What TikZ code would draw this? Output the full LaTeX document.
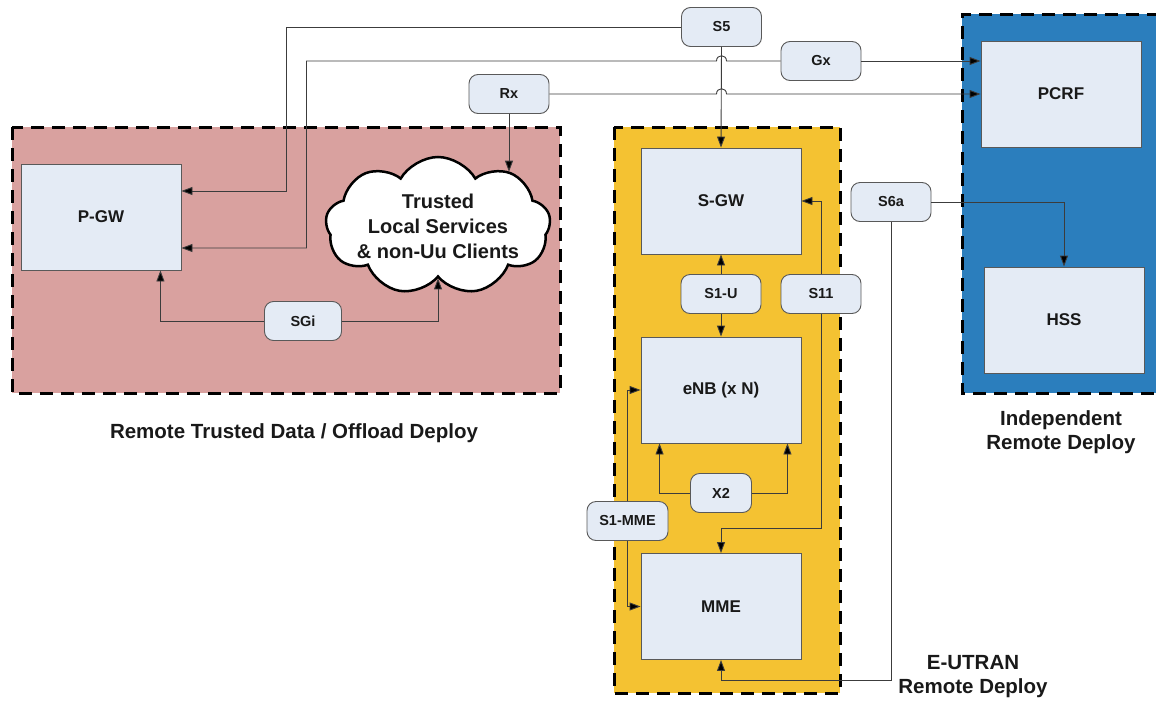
\documentclass[tikz,border=0pt]{standalone}
\usepackage{fontspec}
\setmainfont{Liberation Sans}
\usetikzlibrary{calc,shapes.symbols,arrows.meta}
\definecolor{trustpink}{HTML}{D9A19F}
\definecolor{eutranyellow}{HTML}{F4C232}
\definecolor{indepblue}{HTML}{2B7EBD}
\definecolor{boxfill}{HTML}{E4EBF5}
\definecolor{boxline}{HTML}{595959}
\definecolor{linkgray}{HTML}{3C3C3C}
\begin{document}
\begin{tikzpicture}[x=1pt,y=-1pt,
  box/.style={rectangle,draw=boxline,fill=boxfill,line width=0.9pt,minimum width=160pt,minimum height=106pt,font=\fontsize{17}{20}\selectfont\bfseries,text=black!90},
  pill/.style={rectangle,rounded corners=9pt,draw=boxline,fill=boxfill,line width=0.9pt,minimum width=80pt,minimum height=39pt,inner sep=0pt,font=\fontsize{14.5}{16}\selectfont\bfseries,text=black!90},
  region/.style={line width=3pt,dash pattern=on 13pt off 8pt},
  regionlabel/.style={align=center,font=\fontsize{20.5}{24}\selectfont\bfseries,text=black!90},
  link/.style={draw=linkgray,line width=0.9pt,-{Triangle[length=11pt,width=8pt,fill=black]}}]
\useasboundingbox (0,0) rectangle (1156,704);
\fill[trustpink] (12,127) rectangle (560,393);
\draw[region] (12,127) rectangle (560,393);
\fill[eutranyellow] (614,127) rectangle (840,693);
\draw[region] (614,127) rectangle (840,693);
\fill[indepblue] (962,14) rectangle (1160,393);
\draw[region] (1160,14) -- (962,14) -- (962,393) -- (1160,393);

\node[box] (PGW) at (101,217) {P-GW};
\node[cloud,draw=black,fill=white,line width=2.5pt,cloud puffs=9,cloud puff arc=120,aspect=1.6,minimum width=225pt,minimum height=138pt,inner sep=0pt] (cloud) at (438,226) {};
\node[align=center,font=\fontsize{20}{25}\selectfont\bfseries,text=black!90] (cloudtext) at (438,226) {Trusted\\Local Services\\\& non-Uu Clients};
\node[box] (SGW) at (721,201) {S-GW};
\node[box] (ENB) at (721,390) {eNB (x N)};
\node[box] (MME) at (721,606.5) {MME};
\node[box] (PCRF) at (1061,94) {PCRF};
\node[box] (HSS) at (1064,320) {HSS};

\node[pill] (S5) at (721.5,27) {S5};
\node[pill] (Gx) at (821,61) {Gx};
\node[pill] (Rx) at (509,94) {Rx};
\node[pill,minimum width=77pt] (SGi) at (303,321) {SGi};
\node[pill] (S6a) at (891,202) {S6a};
\node[pill] (S1U) at (721,294) {S1-U};
\node[pill] (S11) at (821,294) {S11};
\node[pill,minimum width=61pt] (X2) at (721,493) {X2};
\node[pill,minimum width=81pt] (S1MME) at (627.5,521) {S1-MME};

\node[regionlabel] (trustlbl) at (294,433) {Remote Trusted Data / Offload Deploy};
\node[regionlabel] (indeplbl) at (1061,432) {Independent\\Remote Deploy};
\node[regionlabel] (eutranlbl) at (973,677) {E-UTRAN\\Remote Deploy};

\draw[link] (S5.west) -| ($(PGW.east)+(105,-26)$) -- ($(PGW.east)+(0,-26)$);
\draw[link] (S5.south) -- (SGW.north);
\draw[link] (Gx.west) -- ($(S5.south |- Gx.west)+(5,0)$) .. controls +(0,-7) and +(0,-7) .. ($(S5.south |- Gx.west)+(-5,0)$) -| ($(PGW.east)+(125,31)$) -- ($(PGW.east)+(0,31)$);
\draw[link] (Gx.east) -- (Gx.east -| PCRF.west);
\draw[link] (Rx.east) -- ($(S5.south |- Rx.east)+(-5,0)$) .. controls +(0,-7) and +(0,-7) .. ($(S5.south |- Rx.east)+(5,0)$) -- (Rx.east -| PCRF.west);
\draw[link] (Rx.south) -- (Rx.south |- cloud.37);
\draw[link] (SGi.west) -| ($(PGW.south east)+(-21,0)$);
\draw[link] (SGi.east) -| (cloud.south);
\draw[link] (S1U.north) -- (SGW.south);
\draw[link] (S1U.south) -- (ENB.north);
\draw[link] (S11.north) |- (SGW.east);
\draw[link] (S11.south) |- ($(MME.north)+(0,-25)$) -- (MME.north);
\draw[link] (X2.west) -| ($(ENB.south west)+(19,0)$);
\draw[link] (X2.east) -| ($(ENB.south east)+(-14,0)$);
\draw[link] (S1MME.north) |- (ENB.west);
\draw[link] (S1MME.south) |- (MME.west);
\draw[link] (S6a.east) -| (HSS.north);
\draw[link] (S6a.south) |- ($(MME.south)+(0,20)$) -- (MME.south);
\end{tikzpicture}
\end{document}
